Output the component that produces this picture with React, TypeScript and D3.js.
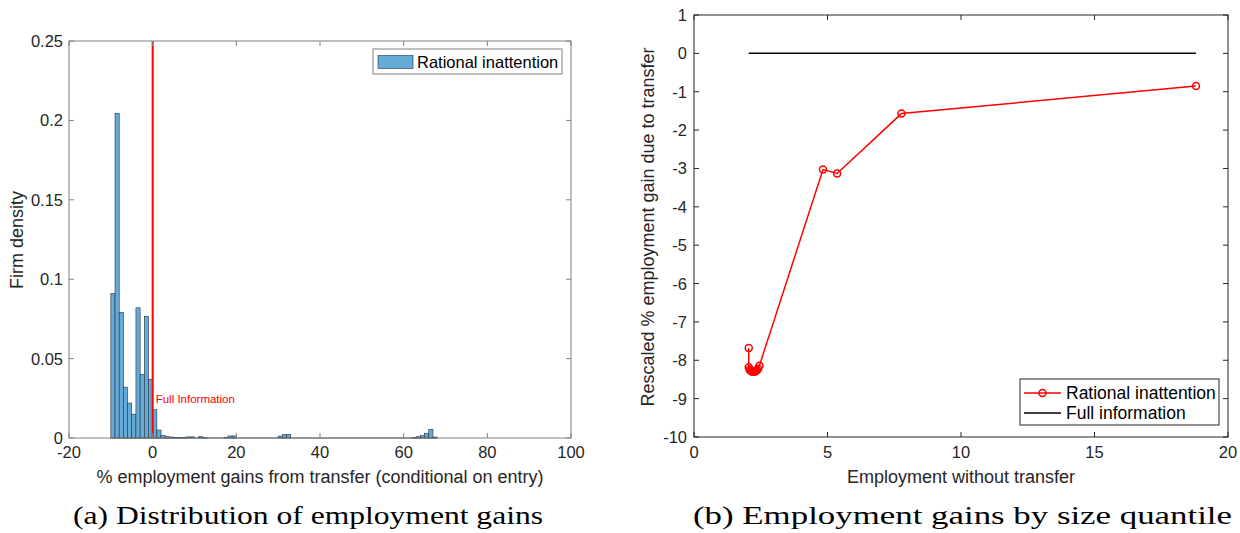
import React from "react";
import * as d3 from "d3";

// ---- Panel (a): histogram data (bin width 1) ----
const binStarts = [-10, -9, -8, -7, -6, -5, -4, -3, -2, -1, 0, 1, 2, 3, 4, 5, 6, 7, 8, 9, 11, 12, 17, 18, 19, 30, 31, 32, 62, 63, 64, 65, 66, 67];
const densities = [0.091, 0.2045, 0.079, 0.032, 0.022, 0.015, 0.082, 0.040, 0.0765, 0.037, 0.0178, 0.005, 0.0015, 0.0008, 0.0006, 0.0004, 0.0003, 0.0003, 0.0007, 0.0007, 0.0008, 0.0003, 0.0004, 0.0013, 0.0013, 0.0012, 0.0022, 0.0022, 0.0004, 0.0008, 0.0015, 0.003, 0.0055, 0.0006];
const binWidth = 1;
const histXTicks = [-20, 0, 20, 40, 60, 80, 100];
const histYTicks = [0, 0.05, 0.1, 0.15, 0.2, 0.25];

// ---- Panel (b): size quantiles ----
const riX = [2.05, 2.05, 2.08, 2.12, 2.16, 2.2, 2.24, 2.28, 2.32, 2.36, 2.4, 2.45, 4.83, 5.36, 7.77, 18.8];
const riY = [-7.68, -8.18, -8.24, -8.27, -8.29, -8.3, -8.3, -8.29, -8.28, -8.26, -8.22, -8.14, -3.03, -3.13, -1.57, -0.85];
const fullX = [2.05, 18.8];
const fullY = [0, 0];
const qXTicks = [0, 5, 10, 15, 20];
const qYTicks = [-10, -9, -8, -7, -6, -5, -4, -3, -2, -1, 0, 1];

const SANS = "'Liberation Sans', Arial, Helvetica, sans-serif";
const SERIF = "'Liberation Serif', 'Times New Roman', serif";

export default function App() {
  // Panel a geometry
  const aL = 69, aR = 571, aT = 41, aB = 438;
  const ax = d3.scaleLinear().domain([-20, 100]).range([aL, aR]);
  const ay = d3.scaleLinear().domain([0, 0.25]).range([aB, aT]);
  const aAxis = "#808080";

  // Panel b geometry
  const bL = 694, bR = 1228, bT = 15, bB = 437;
  const bx = d3.scaleLinear().domain([0, 20]).range([bL, bR]);
  const by = d3.scaleLinear().domain([-10, 1]).range([bB, bT]);
  const bAxis = "#262626";

  const riLine = d3.line<number>().x((_, i) => bx(riX[i])).y((_, i) => by(riY[i]))(riX) || "";
  const fullLine = d3.line<number>().x((_, i) => bx(fullX[i])).y((_, i) => by(fullY[i]))(fullX) || "";

  const tickLen = 5;
  const tickFs = 16.5;
  const labFs = 18;

  return (
    <svg width={1240} height={533} style={{ position: "absolute", left: 0, top: 0, background: "#fff" }}>
      {/* ===== Panel (a) ===== */}
      <rect x={aL} y={aT} width={aR - aL} height={aB - aT} fill="#fff" />
      {binStarts.map((s, i) => (
        <rect
          key={"b" + i}
          x={ax(s)}
          y={ay(densities[i])}
          width={ax(s + binWidth) - ax(s)}
          height={aB - ay(densities[i])}
          fill="#66aad7"
          stroke="#1f3344"
          strokeWidth={0.6}
        />
      ))}
      <line x1={ax(-10)} x2={ax(68)} y1={aB} y2={aB} stroke="#1f3344" strokeWidth={0.8} />
      <line x1={ax(0)} x2={ax(0)} y1={ay(0)} y2={ay(0.25)} stroke="#ff0000" strokeWidth={2} />
      <text x={ax(0) + 3} y={403} fontFamily={SANS} fontSize={11.5} fill="#ff0000">Full Information</text>
      <rect x={aL} y={aT} width={aR - aL} height={aB - aT} fill="none" stroke={aAxis} strokeWidth={1} />
      {histXTicks.map((t) => (
        <g key={"ax" + t}>
          <line x1={ax(t)} x2={ax(t)} y1={aB} y2={aB - tickLen} stroke={aAxis} />
          <line x1={ax(t)} x2={ax(t)} y1={aT} y2={aT + tickLen} stroke={aAxis} />
          <text x={ax(t)} y={458} textAnchor="middle" fontFamily={SANS} fontSize={tickFs} fill="#262626">{t}</text>
        </g>
      ))}
      {histYTicks.map((t) => (
        <g key={"ay" + t}>
          <line x1={aL} x2={aL + tickLen} y1={ay(t)} y2={ay(t)} stroke={aAxis} />
          <line x1={aR} x2={aR - tickLen} y1={ay(t)} y2={ay(t)} stroke={aAxis} />
          <text x={63} y={ay(t) + 6} textAnchor="end" fontFamily={SANS} fontSize={tickFs} fill="#262626">{t}</text>
        </g>
      ))}
      <text x={320} y={483} textAnchor="middle" fontFamily={SANS} fontSize={labFs} fill="#262626">
        % employment gains from transfer (conditional on entry)
      </text>
      <text transform={`translate(23,${240}) rotate(-90)`} textAnchor="middle" fontFamily={SANS} fontSize={labFs} fill="#262626">
        Firm density
      </text>
      {/* legend a */}
      <rect x={373} y={49} width={189} height={25} fill="#fff" stroke={aAxis} strokeWidth={1} />
      <rect x={378} y={55.5} width={35} height={13} fill="#66aad7" stroke="#1f3344" strokeWidth={0.6} />
      <text x={417} y={67.5} fontFamily={SANS} fontSize={16.5} fill="#000">Rational inattention</text>
      {/* caption a */}
      <text x={73} y={524} fontFamily={SERIF} fontSize={25} textLength={470} lengthAdjust="spacingAndGlyphs" fill="#000">
        (a) Distribution of employment gains
      </text>

      {/* ===== Panel (b) ===== */}
      <rect x={bL} y={bT} width={bR - bL} height={bB - bT} fill="none" stroke={bAxis} strokeWidth={1} />
      {qXTicks.map((t) => (
        <g key={"bx" + t}>
          <line x1={bx(t)} x2={bx(t)} y1={bB} y2={bB - tickLen} stroke={bAxis} />
          <line x1={bx(t)} x2={bx(t)} y1={bT} y2={bT + tickLen} stroke={bAxis} />
          <text x={bx(t)} y={458} textAnchor="middle" fontFamily={SANS} fontSize={tickFs} fill="#262626">{t}</text>
        </g>
      ))}
      {qYTicks.map((t) => (
        <g key={"by" + t}>
          <line x1={bL} x2={bL + tickLen} y1={by(t)} y2={by(t)} stroke={bAxis} />
          <line x1={bR} x2={bR - tickLen} y1={by(t)} y2={by(t)} stroke={bAxis} />
          <text x={687} y={by(t) + 6} textAnchor="end" fontFamily={SANS} fontSize={tickFs} fill="#262626">{t}</text>
        </g>
      ))}
      <path d={fullLine} fill="none" stroke="#000" strokeWidth={1.5} />
      <path d={riLine} fill="none" stroke="#ff0000" strokeWidth={1.5} />
      {riX.map((x, i) => (
        <circle key={"m" + i} cx={bx(x)} cy={by(riY[i])} r={3.5} fill="none" stroke="#ff0000" strokeWidth={1.5} />
      ))}
      <text x={(bL + bR) / 2} y={483} textAnchor="middle" fontFamily={SANS} fontSize={labFs} fill="#262626">
        Employment without transfer
      </text>
      <text transform={`translate(654,${227}) rotate(-90)`} textAnchor="middle" fontFamily={SANS} fontSize={labFs} fill="#262626">
        Rescaled % employment gain due to transfer
      </text>
      {/* legend b */}
      <rect x={1020} y={379} width={199} height={46} fill="#fff" stroke={bAxis} strokeWidth={1} />
      <line x1={1024} x2={1061} y1={393} y2={393} stroke="#ff0000" strokeWidth={1.5} />
      <circle cx={1042.5} cy={393} r={3.5} fill="none" stroke="#ff0000" strokeWidth={1.5} />
      <text x={1066} y={399} fontFamily={SANS} fontSize={17.5} fill="#000">Rational inattention</text>
      <text x={1066} y={419} fontFamily={SANS} fontSize={17.5} fill="#000">Full information</text>
      <line x1={1024} x2={1061} y1={413} y2={413} stroke="#000" strokeWidth={1.5} />
      {/* caption b */}
      <text x={693} y={524} fontFamily={SERIF} fontSize={25} textLength={539} lengthAdjust="spacingAndGlyphs" fill="#000">
        (b) Employment gains by size quantile
      </text>
    </svg>
  );
}
